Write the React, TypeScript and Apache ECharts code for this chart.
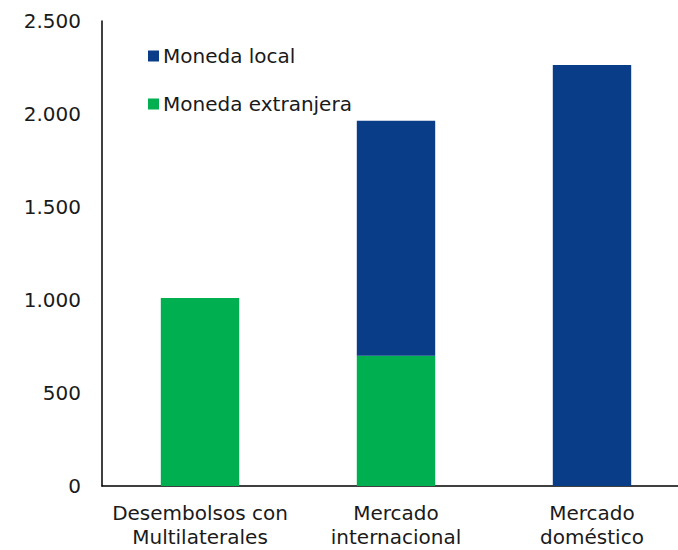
import React, { useEffect, useRef } from "react";
import * as echarts from "echarts";

const categories = ["Desembolsos con\nMultilaterales", "Mercado\ninternacional", "Mercado\ndoméstico"];
const monedaExtranjera = [1011, 700, 0];
const monedaLocal = [0, 1264, 2263];
const yTicks = { min: 0, max: 2500, interval: 500 };

const FONT = "DejaVu Sans";
const TXT = "#1a1a1a";

export default function App() {
  const ref = useRef<HTMLDivElement>(null);
  useEffect(() => {
    const chart = echarts.init(ref.current!, null, { renderer: "svg" });
    chart.setOption({
      animation: false,
      textStyle: { fontFamily: FONT },
      legend: {
        orient: "vertical",
        left: 143,
        top: 41,
        itemWidth: 11,
        itemHeight: 11,
        itemGap: 28,
        icon: "rect",
        textStyle: { fontFamily: FONT, fontSize: 20, color: TXT, padding: [0, 0, 0, -1] },
        data: ["Moneda local", "Moneda extranjera"],
      },
      grid: { left: 102, top: 21, bottom: 64, width: 588, containLabel: false, outerBoundsMode: "none" },
      xAxis: {
        type: "category",
        data: categories,
        axisLine: { lineStyle: { color: "#000", width: 1.5 } },
        axisTick: { show: false },
        axisLabel: { interval: 0, fontFamily: FONT, fontSize: 20, color: TXT, margin: 15, lineHeight: 24 },
      },
      yAxis: {
        type: "value",
        min: yTicks.min,
        max: yTicks.max,
        interval: yTicks.interval,
        axisLine: { show: true, lineStyle: { color: "#000", width: 1.5 } },
        axisTick: { show: false },
        splitLine: { show: false },
        axisLabel: {
          fontFamily: FONT,
          fontSize: 20,
          color: TXT,
          margin: 21,
          formatter: (v: number) => v.toLocaleString("de-DE").replace(/,/g, "."),
        },
      },
      series: [
        {
          name: "Moneda extranjera",
          type: "bar",
          stack: "total",
          barWidth: "40%",
          itemStyle: { color: "#00B050" },
          data: monedaExtranjera,
        },
        {
          name: "Moneda local",
          type: "bar",
          stack: "total",
          barWidth: "40%",
          itemStyle: { color: "#0A3D87" },
          data: monedaLocal,
        },
      ],
    });
    return () => chart.dispose();
  }, []);
  return (
    <div
      ref={ref}
      style={{ position: "absolute", left: 0, top: 0, width: 678, height: 550, background: "#fff" }}
    />
  );
}
